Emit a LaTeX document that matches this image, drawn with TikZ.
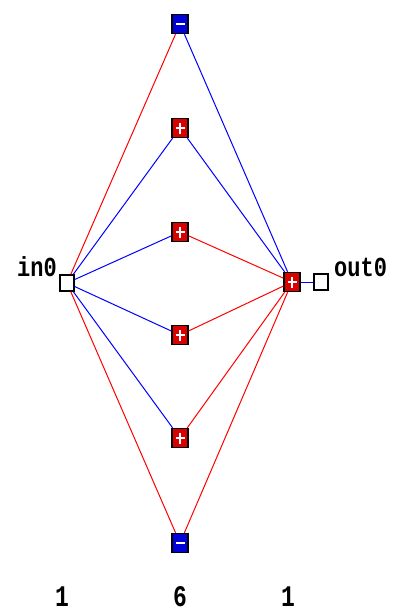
\documentclass[tikz,border=0pt]{standalone}
\usepackage{fontspec}
\setmonofont{Liberation Mono}
\usetikzlibrary{positioning}

\tikzset{
  unit/.style={draw=black, line width=1.4pt, minimum width=16pt, minimum height=19pt, inner sep=0pt},
  plusunit/.style={unit, fill=red!85!black,
    path picture={\draw[white, line width=2.2pt]
      ([yshift=-4pt]path picture bounding box.north) -- ([yshift=4pt]path picture bounding box.south)
      ([xshift=3.5pt]path picture bounding box.west) -- ([xshift=-3.5pt]path picture bounding box.east);}},
  minusunit/.style={unit, fill=blue!85!black,
    path picture={\draw[white, line width=2.2pt]
      ([xshift=3.5pt]path picture bounding box.west) -- ([xshift=-3.5pt]path picture bounding box.east);}},
  iounit/.style={draw=black, line width=1.4pt, fill=white, minimum width=14pt, minimum height=16pt, inner sep=0pt},
  lbl/.style={font=\ttfamily\bfseries\fontsize{22}{22}\selectfont, inner sep=0pt},
  cnt/.style={font=\ttfamily\bfseries\fontsize{23}{23}\selectfont, inner sep=0pt},
  poswt/.style={red, line width=1pt},
  negwt/.style={blue, line width=1pt}
}

\begin{document}
\begin{tikzpicture}[x=1pt, y=-1pt]
  \useasboundingbox (0,0) rectangle (396,615);

  % input and output
  \node[iounit] (in0) at (67,283) {};
  \node[lbl, anchor=south east] (in0lbl) at (57,277) {\scalebox{1}[1.25]{in0}};
  \node[plusunit] (o1) at (292,282) {};
  \node[iounit] (out0) at (321,282) {};
  \node[lbl, anchor=south west] (out0lbl) at (334,277) {\scalebox{1}[1.25]{out0}};

  % hidden layer
  \node[minusunit] (h1) at (180,24) {};
  \node[plusunit]  (h2) at (180,128) {};
  \node[plusunit]  (h3) at (180,232) {};
  \node[plusunit]  (h4) at (180,335) {};
  \node[plusunit]  (h5) at (180,438) {};
  \node[minusunit] (h6) at (180,543) {};

  % weights into the hidden layer
  \foreach \h/\s in {h1/poswt, h2/negwt, h3/negwt, h4/negwt, h5/negwt, h6/poswt}
    \draw[\s] (in0) -- (\h);

  % weights into the output
  \foreach \h/\s in {h1/negwt, h2/negwt, h3/poswt, h4/poswt, h5/poswt, h6/poswt}
    \draw[\s] (\h) -- (o1);

  \draw[negwt] (o1) -- (out0);

  % layer sizes
  \node[cnt, anchor=base] (n1) at (62,606) {\scalebox{1}[1.3]{1}};
  \node[cnt, anchor=base] (n2) at (180,606) {\scalebox{1}[1.3]{6}};
  \node[cnt, anchor=base] (n3) at (288,606) {\scalebox{1}[1.3]{1}};
\end{tikzpicture}
\end{document}
